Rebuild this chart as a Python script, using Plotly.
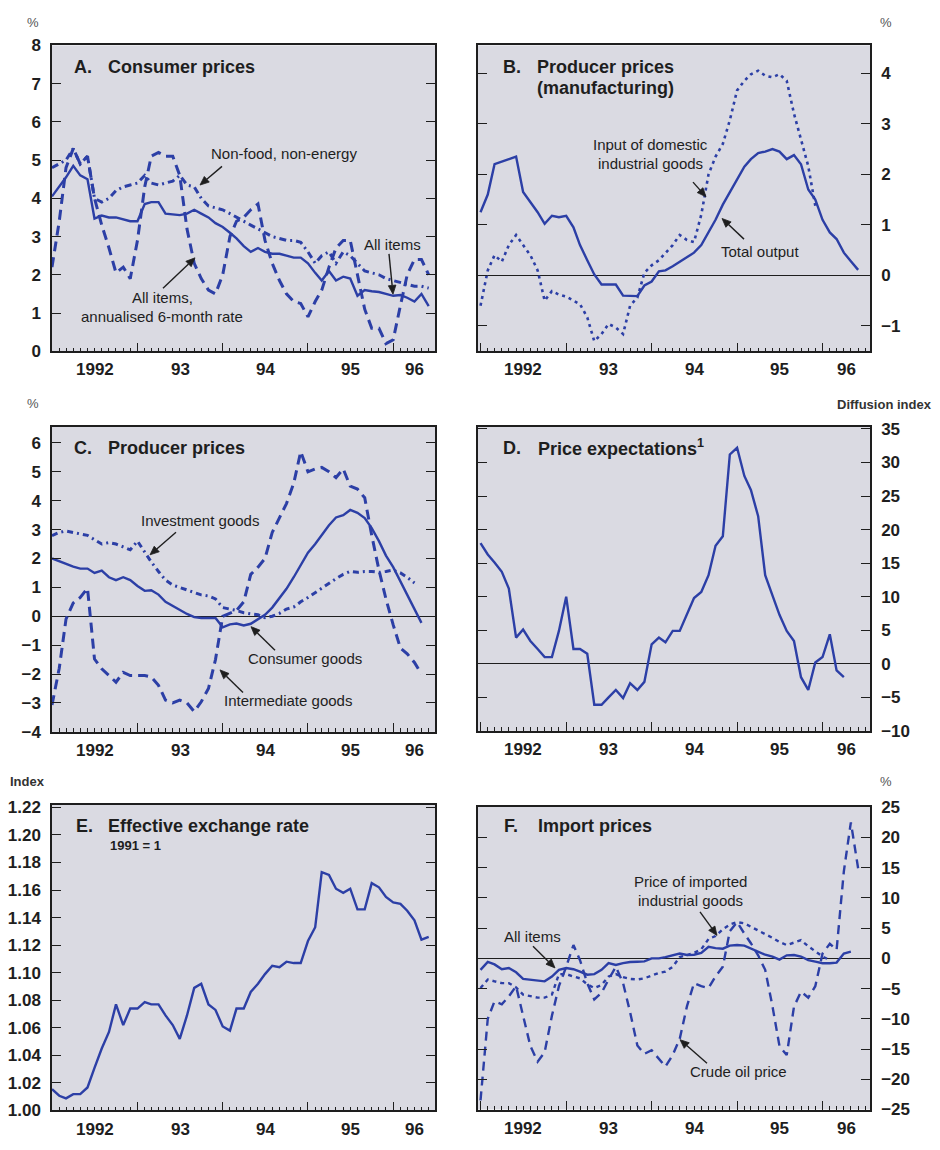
import pandas as pd
import plotly.graph_objects as go

W, H = 940, 1150
BLUE = "#2c3fa6"
INK = "#1e1e1e"
BG = "#dadae2"
FONT = "Liberation Sans"

# ---------------- data (monthly, starting January 1992) ----------------
START = "1992-01-01"
YEAR_LABELS = ["1992", "93", "94", "95", "96"]

# A. Consumer prices
cpi_all_items = [4.05, 4.3, 4.55, 4.85, 4.6, 4.5, 3.47, 3.55, 3.5, 3.5, 3.45, 3.4, 3.4, 3.85, 3.9, 3.9,
                 3.6, 3.58, 3.56, 3.6, 3.7, 3.6, 3.5, 3.35, 3.25, 3.1, 2.95, 2.75, 2.6, 2.7, 2.6, 2.55,
                 2.55, 2.5, 2.45, 2.45, 2.3, 2.05, 1.85, 2.1, 1.85, 1.95, 1.9, 1.45, 1.6, 1.57, 1.55, 1.5,
                 1.45, 1.47, 1.4, 1.3, 1.5, 1.18]
cpi_6m_rate = [2.2, 3.4, 4.8, 5.3, 4.9, 5.1, 4.0, 3.3, 2.7, 2.05, 2.2, 1.9, 2.9, 4.3, 5.1, 5.2,
               5.1, 5.1, 4.6, 3.2, 2.3, 1.9, 1.6, 1.5, 2.0, 3.0, 3.4, 3.5, 3.7, 3.85, 2.9, 2.3,
               1.85, 1.5, 1.3, 1.25, 0.9, 1.3, 1.6, 2.2, 2.7, 2.9, 2.9, 2.0, 1.1, 0.6, 0.6, 0.2,
               0.3, 1.2, 2.0, 2.4, 2.4, 2.0]
cpi_core = [4.8, 4.9, 5.0, 5.3, 4.9, 5.1, 4.0, 3.9, 4.0, 4.2, 4.3, 4.35, 4.4, 4.6, 4.4, 4.35,
            4.4, 4.45, 4.6, 4.35, 4.3, 4.0, 3.8, 3.75, 3.7, 3.6, 3.5, 3.4, 3.3, 3.2, 3.1, 3.0,
            2.95, 2.9, 2.9, 2.85, 2.6, 2.3, 2.5, 2.6, 2.3, 2.6, 2.5, 2.3, 2.1, 2.05, 2.0, 1.9,
            1.85, 1.8, 1.75, 1.7, 1.7, 1.65]

# B. Producer prices (manufacturing)
ppi_total_output = [1.25, 1.6, 2.2, 2.25, 2.3, 2.35, 1.65, 1.45, 1.25, 1.02, 1.18, 1.15, 1.18, 0.95,
                    0.6, 0.3, 0.02, -0.18, -0.18, -0.18, -0.4, -0.41, -0.41, -0.2, -0.12, 0.08, 0.1,
                    0.18, 0.27, 0.35, 0.45, 0.6, 0.85, 1.1, 1.4, 1.65, 1.9, 2.15, 2.3, 2.42, 2.45,
                    2.5, 2.45, 2.3, 2.38, 2.2, 1.7, 1.5, 1.1, 0.85, 0.72, 0.45, 0.28, 0.11]
ppi_domestic_inputs = [-0.6, 0.1, 0.4, 0.27, 0.6, 0.8, 0.6, 0.4, 0.1, -0.5, -0.31, -0.38, -0.42, -0.5,
                       -0.57, -0.83, -1.3, -1.16, -0.96, -1.03, -1.16, -0.6, -0.44, 0.05, 0.2, 0.3,
                       0.45, 0.6, 0.8, 0.7, 0.66, 1.2, 2.0, 2.35, 2.6, 3.07, 3.66, 3.85, 3.98, 4.05,
                       3.95, 3.92, 3.98, 3.85, 3.2, 2.68, 2.16, 1.38]

# C. Producer prices by stage
pp_consumer = [2.0, 1.9, 1.82, 1.72, 1.65, 1.65, 1.5, 1.58, 1.35, 1.25, 1.35, 1.25, 1.05, 0.88, 0.9,
               0.75, 0.5, 0.35, 0.2, 0.08, -0.03, -0.06, -0.06, -0.06, -0.38, -0.28, -0.25, -0.32,
               -0.26, -0.1, 0.05, 0.3, 0.62, 0.95, 1.35, 1.75, 2.2, 2.5, 2.8, 3.15, 3.42, 3.5, 3.68,
               3.58, 3.4, 3.05, 2.6, 2.1, 1.7, 1.2, 0.7, 0.2, -0.23]
pp_investment = [2.79, 2.9, 2.95, 2.9, 2.85, 2.8, 2.65, 2.5, 2.55, 2.5, 2.4, 2.3, 2.6, 2.2, 1.88, 1.55,
                 1.25, 1.08, 1.0, 0.9, 0.82, 0.74, 0.7, 0.6, 0.3, 0.25, 0.2, 0.12, 0.08, 0.05, -0.05,
                 0.0, 0.1, 0.25, 0.32, 0.5, 0.65, 0.82, 0.95, 1.15, 1.3, 1.45, 1.55, 1.52, 1.55, 1.55,
                 1.52, 1.55, 1.6, 1.5, 1.35, 1.15]
pp_intermediate = [-3.07, -1.8, -0.1, 0.46, 0.65, 0.97, -1.48, -1.82, -2.05, -2.28, -1.94, -2.05, -2.05,
                   -2.05, -2.1, -2.39, -2.9, -3.0, -2.9, -3.0, -3.3, -2.96, -2.5, -1.5, 0.0, 0.1, 0.2,
                   0.5, 1.45, 1.7, 2.0, 2.9, 3.4, 3.9, 4.6, 5.7, 5.0, 5.1, 5.15, 5.0, 4.8, 5.1, 4.5,
                   4.4, 4.1, 2.8, 1.6, 0.6, -0.3, -1.1, -1.3, -1.6, -2.0]

# D. Price expectations (diffusion index)
price_expectations = [18.0, 16.3, 15.1, 13.7, 11.2, 3.9, 5.1, 3.4, 2.2, 1.0, 1.0, 4.9, 10.0, 2.2, 2.2,
                      1.5, -6.1, -6.1, -5.0, -3.9, -5.1, -2.9, -3.9, -2.7, 2.9, 3.9, 3.2, 4.9, 4.9, 7.3,
                      9.8, 10.7, 13.2, 17.6, 19.0, 31.2, 32.2, 28.0, 25.9, 22.0, 13.2, 10.2, 7.3, 4.9,
                      3.4, -2.0, -3.9, 0.2, 1.0, 4.4, -1.0, -2.0]

# E. Effective exchange rate (1991 = 1)
eff_exchange_rate = [1.0155, 1.0107, 1.0088, 1.0119, 1.0119, 1.0167, 1.031, 1.045, 1.057, 1.077, 1.062,
                     1.074, 1.074, 1.0786, 1.077, 1.077, 1.069, 1.062, 1.052, 1.069, 1.089, 1.092,
                     1.077, 1.073, 1.061, 1.058, 1.074, 1.074, 1.086, 1.092, 1.099, 1.105, 1.104,
                     1.108, 1.107, 1.107, 1.123, 1.133, 1.173, 1.171, 1.161, 1.158, 1.161, 1.146,
                     1.146, 1.165, 1.162, 1.155, 1.151, 1.150, 1.145, 1.138, 1.124, 1.126]

# F. Import prices
imp_all_items = [-1.9, -0.6, -1.0, -1.8, -1.6, -2.3, -3.4, -3.5, -3.6, -3.8, -3.0, -1.9, -1.6, -1.8,
                 -2.2, -2.7, -2.6, -1.9, -0.8, -1.1, -0.8, -0.6, -0.55, -0.5, 0.0, 0.0, 0.2, 0.55,
                 0.8, 0.55, 0.6, 0.9, 1.9, 1.7, 1.6, 2.1, 2.2, 2.1, 1.6, 1.1, 0.6, 0.3, -0.2, 0.5,
                 0.55, 0.3, -0.3, -0.55, -0.8, -0.8, -0.7, 0.8, 1.1]
imp_industrial = [-4.9, -3.5, -3.8, -4.1, -4.1, -4.8, -6.0, -6.3, -6.5, -6.5, -6.0, -2.6, -2.6, -3.0,
                  -3.3, -4.3, -4.9, -4.4, -3.0, -2.6, -3.1, -3.4, -3.5, -3.3, -2.8, -2.4, -2.2, -1.4,
                  0.2, 0.6, 0.9, 1.5, 3.2, 3.7, 4.8, 5.6, 6.0, 5.8, 5.2, 4.6, 4.0, 3.4, 2.7, 2.2,
                  2.6, 3.0, 2.0, 1.2, 0.3, -0.3]
imp_crude_oil = [-23.5, -10.0, -7.1, -7.6, -6.3, -4.6, -9.5, -14.5, -17.1, -15.5, -9.5, -4.6, -1.4,
                 2.2, -0.3, -4.1, -6.8, -5.7, -3.5, -1.4, -4.1, -8.9, -14.4, -15.8, -15.2, -16.6,
                 -17.9, -16.0, -13.3, -7.9, -4.1, -4.6, -4.9, -3.0, -1.4, 4.5, 6.0, 4.1, 2.5, 0.5,
                 -1.9, -7.9, -14.5, -16.0, -8.0, -5.5, -6.5, -4.6, 0.8, 2.4, 1.4, 14.4, 22.5, 14.9]


# ---------------- helpers ----------------
def months(n):
    return pd.date_range(START, periods=n, freq="MS")


def ydate(y):
    base = pd.Timestamp(int(y), 1, 1)
    return (base + pd.Timedelta(days=(y - int(y)) * 365.25)).strftime("%Y-%m-%d %H:%M")


def px_x(px):
    return px / W


def px_y(py):
    return 1 - py / H


# panel boxes in pixels: (left, top, right, bottom)
BOX = {
    "A": (52, 37, 435, 348),
    "B": (478, 37, 870, 348),
    "C": (52, 425, 435, 735),
    "D": (478, 425, 870, 734),
    "E": (52, 809, 435, 1120),
    "F": (478, 811, 870, 1119),
}
XR_LEFT = [ydate(1992.0), ydate(1996.49)]
XR_RIGHT = [ydate(1991.97), ydate(1996.555)]

fig = go.Figure()

tickfont = dict(family=FONT, size=17, color=INK, weight="bold")
axis_ids = {"A": "", "B": "2", "C": "3", "D": "4", "E": "5", "F": "6"}

yspec = {
    "A": dict(range=[0, 8], dtick=1, tick0=0, side="left", zeroline=False, tickformat="d"),
    "B": dict(range=[-1.5, 4.55], dtick=1, tick0=0, side="right", zeroline=True, tickformat="d"),
    "C": dict(range=[-4, 6.55], dtick=1, tick0=0, side="left", zeroline=True, tickformat="d"),
    "D": dict(range=[-10, 35.3], dtick=5, tick0=0, side="right", zeroline=True, tickformat="d"),
    "E": dict(range=[1.0, 1.222], dtick=0.02, tick0=1.0, side="left", zeroline=False, tickformat=".2f"),
    "F": dict(range=[-25, 25.1], dtick=5, tick0=0, side="right", zeroline=True, tickformat="d"),
}

layout_axes = {}
for key, (l, t, r, b) in BOX.items():
    sid = axis_ids[key]
    xr = XR_LEFT if key in "ACE" else XR_RIGHT
    layout_axes["xaxis" + sid] = dict(
        type="date", domain=[px_x(l), px_x(r)], range=xr, anchor="y" + sid,
        showline=True, linecolor=INK, linewidth=1.5, mirror=True,
        ticks="inside", ticklen=9, tickcolor=INK, tickwidth=1.2,
        tickmode="array", tickvals=[f"{y}-01-01" for y in range(1992, 1997)],
        showticklabels=False, showgrid=False, zeroline=False,
        minor=dict(ticks="inside", ticklen=4, tickcolor=INK, tickwidth=1,
                   dtick="M1", tick0="1992-01-01", showgrid=False),
    )
    s = yspec[key]
    layout_axes["yaxis" + sid] = dict(
        domain=[px_y(b), px_y(t)], range=s["range"], anchor="x" + sid,
        dtick=s["dtick"], tick0=s["tick0"], side=s["side"], tickformat=s["tickformat"],
        showline=True, linecolor=INK, linewidth=1.5, mirror="ticks",
        ticks="inside", ticklen=9, tickcolor=INK, tickwidth=1.2,
        tickfont=tickfont, ticklabelstandoff=6,
        showgrid=False, zeroline=s["zeroline"], zerolinecolor=INK, zerolinewidth=1.4,
    )


def add(key, vals, dash="solid", width=2.4):
    sid = axis_ids[key]
    fig.add_trace(go.Scatter(
        x=months(len(vals)), y=vals, mode="lines",
        line=dict(color=BLUE, width=width, dash=dash),
        xaxis="x" + sid, yaxis="y" + sid, showlegend=False, hoverinfo="skip"))


add("A", cpi_6m_rate, dash="10px,6px", width=3)
add("A", cpi_core, dash="7px,4px,2px,4px", width=3)
add("A", cpi_all_items)

add("B", ppi_domestic_inputs, dash="3px,4px", width=2.6)
add("B", ppi_total_output)

add("C", pp_intermediate, dash="10px,6px", width=3)
add("C", pp_investment, dash="6px,4px,2px,4px", width=3)
add("C", pp_consumer)

add("D", price_expectations)

add("E", eff_exchange_rate)

add("F", imp_crude_oil, dash="9px,6px", width=2.4)
add("F", imp_industrial, dash="4px,4px", width=2.4)
add("F", imp_all_items)

ann = []
shapes = []


def txt(px, py, s, size=15, xanchor="center", bold=False, color=INK):
    if bold:
        s = f"<b>{s}</b>"
    ann.append(dict(x=px_x(px), y=px_y(py), xref="paper", yref="paper", text=s,
                    showarrow=False, xanchor=xanchor, yanchor="middle",
                    font=dict(family=FONT, size=size, color=color)))


def arrow(tail, tip, head_len=9.0, head_w=3.8):
    # shaft as a line shape, head as a small filled triangle (both in pixel space -> paper)
    dx, dy = tip[0] - tail[0], tip[1] - tail[1]
    n = (dx * dx + dy * dy) ** 0.5
    ux, uy = dx / n, dy / n
    bx, by = tip[0] - ux * head_len, tip[1] - uy * head_len
    shapes.append(dict(type="line", xref="paper", yref="paper",
                       x0=px_x(tail[0]), y0=px_y(tail[1]), x1=px_x(bx), y1=px_y(by),
                       line=dict(color=INK, width=1.4)))
    p1 = (bx - uy * head_w, by + ux * head_w)
    p2 = (bx + uy * head_w, by - ux * head_w)
    path = "M {:.5f} {:.5f} L {:.5f} {:.5f} L {:.5f} {:.5f} Z".format(
        px_x(tip[0]), px_y(tip[1]), px_x(p1[0]), px_y(p1[1]), px_x(p2[0]), px_y(p2[1]))
    shapes.append(dict(type="path", xref="paper", yref="paper", path=path,
                       fillcolor=INK, line=dict(color=INK, width=0.8)))


# year labels on every panel
for key, (l, t, r, b) in BOX.items():
    sid = axis_ids[key]
    hi = 1996.49 if key in "ACE" else 1996.555
    centers = [1992.5, 1993.5, 1994.5, 1995.5, (1996.0 + hi) / 2]
    for c, lab in zip(centers, YEAR_LABELS):
        ann.append(dict(x=ydate(c), y=px_y(b + 19), xref="x" + sid, yref="paper", text=f"<b>{lab}</b>",
                        showarrow=False, xanchor="center", yanchor="middle",
                        font=dict(family=FONT, size=17, color=INK)))

# unit labels
txt(33, 14, "%", size=13, color="#555")
txt(886, 14, "%", size=13, color="#555")
txt(33, 401, "%", size=13, color="#555")
txt(934, 402, "Diffusion index", size=13, xanchor="right", bold=True, color="#333")
txt(8, 785, "Index", size=13, xanchor="left", bold=True, color="#333")
txt(886, 785, "%", size=13, color="#555")

# panel titles
TS = 18
txt(72, 59, "A.", size=TS, xanchor="left", bold=True)
txt(106, 59, "Consumer prices", size=TS, xanchor="left", bold=True)
txt(501, 59, "B.", size=TS, xanchor="left", bold=True)
txt(535, 59, "Producer prices", size=TS, xanchor="left", bold=True)
txt(535, 80, "(manufacturing)", size=TS, xanchor="left", bold=True)
txt(72, 446, "C.", size=TS, xanchor="left", bold=True)
txt(106, 446, "Producer prices", size=TS, xanchor="left", bold=True)
txt(501, 446, "D.", size=TS, xanchor="left", bold=True)
txt(536, 446, "Price expectations<sup>1</sup>", size=TS, xanchor="left", bold=True)
txt(74, 831, "E.", size=TS, xanchor="left", bold=True)
txt(106, 831, "Effective exchange rate", size=TS, xanchor="left", bold=True)
txt(108, 851, "1991 = 1", size=13, xanchor="left", bold=True)
txt(502, 831, "F.", size=TS, xanchor="left", bold=True)
txt(536, 831, "Import prices", size=TS, xanchor="left", bold=True)

# series labels and arrows
txt(284, 147, "Non-food, non-energy")
arrow((222, 160), (200, 179))
txt(392, 239, "All items")
arrow((389, 249), (393, 290))
txt(162, 293, "All items,")
txt(162, 313, "annualised 6-month rate")
arrow((163, 284), (195, 253))

txt(650, 138, "Input of domestic")
txt(650, 157, "industrial goods")
arrow((693, 176), (706, 191))
txt(760, 247, "Total output")
arrow((744, 234), (722, 213))

txt(200, 520, "Investment goods")
arrow((176, 532), (150, 555))
txt(305, 660, "Consumer goods")
arrow((275, 652), (251, 628))
txt(288, 703, "Intermediate goods")
arrow((243, 695), (220, 672))

txt(690, 887, "Price of imported")
txt(690, 906, "industrial goods")
arrow((700, 918), (717, 942))
txt(532, 943, "All items")
arrow((533, 953), (555, 975))
txt(738, 1080, "Crude oil price")
arrow((707, 1072), (680, 1048))

fig.update_layout(
    width=W, height=H, margin=dict(l=0, r=0, t=0, b=0),
    paper_bgcolor="white", plot_bgcolor=BG,
    font=dict(family=FONT, color=INK),
    annotations=ann, shapes=shapes, showlegend=False,
    **layout_axes,
)

fig.write_html("out.html")
